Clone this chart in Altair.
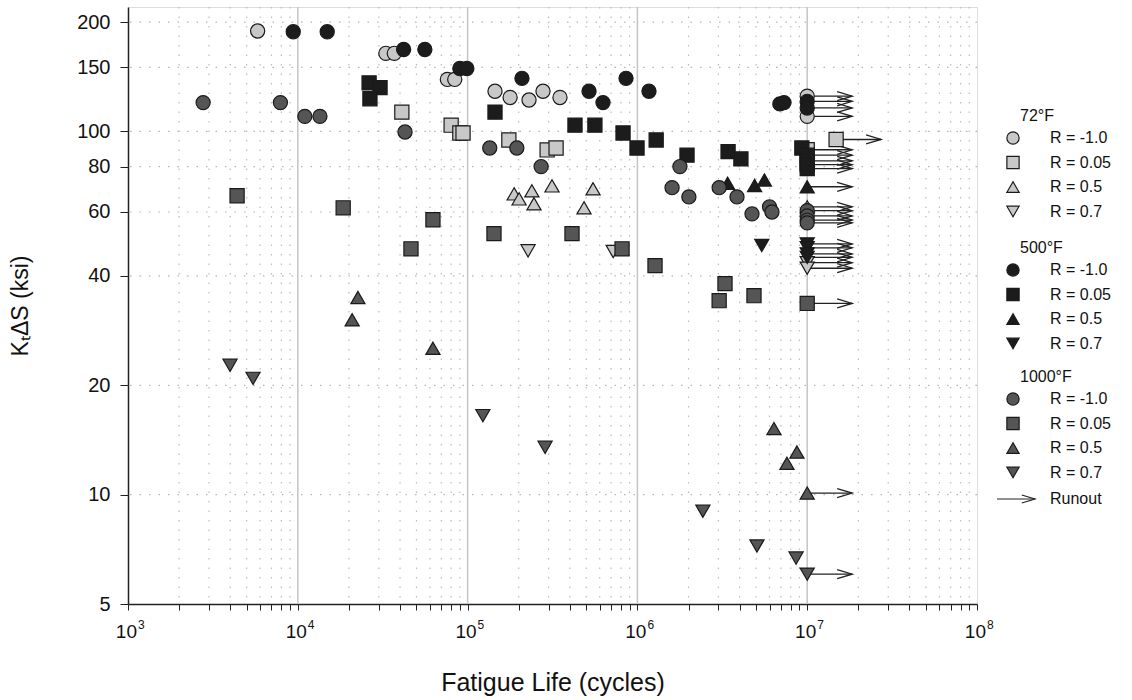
import altair as alt
import pandas as pd

# ---------------- data ----------------
# 72°F
t72_rm1_N = [5.8e3, 3.3e4, 3.7e4, 7.6e4, 8.4e4, 1.45e5, 1.78e5, 2.3e5, 2.78e5, 3.5e5]
t72_rm1_S = [189, 164, 164, 139, 139, 129, 124, 122, 129, 124]
t72_rm1_runN = [1e7, 1e7]
t72_rm1_runS = [125, 110]

t72_r005_N = [4.1e4, 8.0e4, 9.0e4, 9.4e4, 1.75e5, 2.94e5, 3.32e5]
t72_r005_S = [113, 104, 99, 99, 94.7, 88.9, 90]
t72_r005_runN = [1.48e7, 1e7]
t72_r005_runS = [95, 89]

t72_r05_N = [1.88e5, 2.01e5, 2.39e5, 2.46e5, 3.14e5, 4.85e5, 5.48e5]
t72_r05_S = [67.3, 65.2, 68.6, 63.2, 70.8, 61.6, 69.5]
t72_r05_runN = [1e7]
t72_r05_runS = [62]

t72_r07_N = [2.27e5, 7.2e5]
t72_r07_S = [46.9, 46.7]
t72_r07_runN = [1e7, 1e7]
t72_r07_runS = [43.5, 42]

# 500°F
t500_rm1_N = [9.4e3, 1.49e4, 4.2e4, 5.6e4, 9.0e4, 9.9e4, 2.09e5, 5.19e5, 6.27e5, 8.57e5, 1.17e6, 6.9e6, 7.3e6]
t500_rm1_S = [188, 188, 168, 168, 149, 149, 140, 129, 120, 140, 129, 119, 120]
t500_rm1_runN = [1e7, 1e7]
t500_rm1_runS = [121, 116]

t500_r005_N = [2.63e4, 3.05e4, 2.66e4, 1.45e5, 4.29e5, 5.62e5, 8.23e5, 9.95e5, 1.29e6, 1.96e6, 3.42e6, 4.07e6, 9.3e6]
t500_r005_S = [136, 132, 123, 113, 104, 104, 99, 90, 94.7, 86, 88, 84, 90]
t500_r005_runN = [1e7, 1e7, 1e7, 1e7]
t500_r005_runS = [86, 83, 81, 79]

t500_r05_N = [3.4e6, 4.9e6, 5.6e6]
t500_r05_S = [72, 71, 73.5]
t500_r05_runN = [1e7]
t500_r05_runS = [70.4]

t500_r07_N = [5.4e6]
t500_r07_S = [48.5]
t500_r07_runN = [1e7, 1e7, 1e7, 1e7]
t500_r07_runS = [49, 47.8, 46, 45]

# 1000°F
t1000_rm1_N = [2.77e3, 7.9e3, 1.1e4, 1.35e4, 4.28e4, 1.35e5, 1.95e5, 2.71e5, 1.6e6, 1.78e6,
               2.01e6, 3.03e6, 3.86e6, 4.73e6, 6.0e6, 6.2e6]
t1000_rm1_S = [120, 120, 110, 110, 99.6, 90, 90, 80, 70, 80, 66, 70, 66, 59.3, 62, 60]
t1000_rm1_runN = [1e7, 1e7, 1e7, 1e7]
t1000_rm1_runS = [60.5, 58.5, 57, 56]

t1000_r005_N = [4.39e3, 1.85e4, 4.64e4, 6.25e4, 1.43e5, 4.12e5, 8.12e5, 1.27e6, 3.03e6, 3.28e6, 4.86e6]
t1000_r005_S = [66.5, 61.6, 47.5, 57.1, 52.3, 52.3, 47.5, 42.7, 34.2, 38.1, 35.3]
t1000_r005_runN = [1e7]
t1000_r005_runS = [33.6]

t1000_r05_N = [2.09e4, 2.26e4, 6.25e4, 6.37e6, 7.6e6, 8.7e6]
t1000_r05_S = [30.3, 34.9, 25.3, 15.2, 12.2, 13.1]
t1000_r05_runN = [1e7]
t1000_r05_runS = [10.1]

t1000_r07_N = [3.99e3, 5.45e3, 1.23e5, 2.86e5, 2.43e6, 5.06e6, 8.6e6]
t1000_r07_S = [22.7, 20.9, 16.5, 13.5, 9.0, 7.22, 6.69]
t1000_r07_runN = [1e7]
t1000_r07_runS = [6.04]

temps = ["72°F", "500°F", "1000°F"]
ratios = ["R = -1.0", "R = 0.05", "R = 0.5", "R = 0.7"]
temp_colors = ["#c8c8c8", "#1c1c1c", "#555555"]
ratio_shapes = ["circle", "square", "triangle-up", "triangle-down"]

series = [
    ("72°F", "R = -1.0", t72_rm1_N, t72_rm1_S, t72_rm1_runN, t72_rm1_runS),
    ("72°F", "R = 0.05", t72_r005_N, t72_r005_S, t72_r005_runN, t72_r005_runS),
    ("72°F", "R = 0.5", t72_r05_N, t72_r05_S, t72_r05_runN, t72_r05_runS),
    ("72°F", "R = 0.7", t72_r07_N, t72_r07_S, t72_r07_runN, t72_r07_runS),
    ("500°F", "R = -1.0", t500_rm1_N, t500_rm1_S, t500_rm1_runN, t500_rm1_runS),
    ("500°F", "R = 0.05", t500_r005_N, t500_r005_S, t500_r005_runN, t500_r005_runS),
    ("500°F", "R = 0.5", t500_r05_N, t500_r05_S, t500_r05_runN, t500_r05_runS),
    ("500°F", "R = 0.7", t500_r07_N, t500_r07_S, t500_r07_runN, t500_r07_runS),
    ("1000°F", "R = -1.0", t1000_rm1_N, t1000_rm1_S, t1000_rm1_runN, t1000_rm1_runS),
    ("1000°F", "R = 0.05", t1000_r005_N, t1000_r005_S, t1000_r005_runN, t1000_r005_runS),
    ("1000°F", "R = 0.5", t1000_r05_N, t1000_r05_S, t1000_r05_runN, t1000_r05_runS),
    ("1000°F", "R = 0.7", t1000_r07_N, t1000_r07_S, t1000_r07_runN, t1000_r07_runS),
]

ARROW_FACTOR = 1.84  # runout arrow length (multiplicative, log axis)

pts, runs = [], []
for temp, r, Ns, Ss, rN, rS in series:
    for n, s in zip(Ns, Ss):
        pts.append({"N": n, "S": s, "temp": temp, "R": r})
    for n, s in zip(rN, rS):
        pts.append({"N": n, "S": s, "temp": temp, "R": r})
        runs.append({"N": n, "N2": n * ARROW_FACTOR, "S": s})
pts_df = pd.DataFrame(pts)
runs_df = pd.DataFrame(runs)

decades = [1e3, 1e4, 1e5, 1e6, 1e7, 1e8]
decade_exp = ["3", "4", "5", "6", "7", "8"]
minors = [m * 10 ** k for k in range(3, 8) for m in range(2, 10)]
y_ticks = [5, 10, 20, 40, 60, 80, 100, 150, 200]

FONT = "Liberation Sans"
W, H = 849, 597
xscale = alt.Scale(type="log", domain=[1e3, 1e8], nice=False)
yscale = alt.Scale(type="log", domain=[5, 220], nice=False)

xaxis = alt.Axis(values=decades + minors, labels=False, grid=False, tickSize=6,
                 tickColor="#222", domainColor="#222", domainWidth=1.5, tickWidth=1,
                 title="Fatigue Life (cycles)", titleFont=FONT, titleFontSize=25,
                 titleFontWeight="normal", titleColor="#111", titlePadding=60)
yaxis = alt.Axis(values=y_ticks, format="d", grid=False, tickSize=8, tickColor="#222",
                 domainColor="#222", domainWidth=1.5, labelFont=FONT, labelFontSize=20,
                 labelColor="#111", labelPadding=10, labelOverlap=False, labelFlush=False,
                 title="KₜΔS (ksi)", titleFont=FONT, titleFontSize=23,
                 titleFontWeight="normal", titleColor="#111", titlePadding=44)

# grid lines
major_grid = alt.Chart(pd.DataFrame({"N": decades[1:-1]})).mark_rule(
    color="#c4c4c4", strokeWidth=1.5).encode(x=alt.X("N:Q", scale=xscale, axis=xaxis))
minor_grid = alt.Chart(pd.DataFrame({"N": minors})).mark_rule(
    color="#bcbcbc", strokeWidth=1.2, strokeDash=[1.5, 8]).encode(
    x=alt.X("N:Q", scale=xscale, axis=xaxis))
h_grid = alt.Chart(pd.DataFrame({"S": y_ticks[1:]})).mark_rule(
    color="#b5b5b5", strokeWidth=1.2, strokeDash=[1.5, 8]).encode(
    y=alt.Y("S:Q", scale=yscale, axis=yaxis))

# decade labels 10^k drawn as base + raised exponent
dec_df = pd.DataFrame({"N": decades, "base": ["10"] * len(decades), "exp": decade_exp})
dec_base = alt.Chart(dec_df).mark_text(align="right", baseline="middle", font=FONT,
                                       fontSize=19, color="#111", dx=9).encode(
    x=alt.X("N:Q", scale=xscale, axis=xaxis), y=alt.value(H + 28), text="base:N")
dec_exp = alt.Chart(dec_df).mark_text(align="left", baseline="middle", font=FONT,
                                      fontSize=12, color="#111", dx=10).encode(
    x=alt.X("N:Q", scale=xscale, axis=xaxis), y=alt.value(H + 21), text="exp:N")

arrows = alt.Chart(runs_df).mark_rule(color="#222", strokeWidth=1.3).encode(
    x=alt.X("N:Q", scale=xscale, axis=xaxis), x2="N2:Q",
    y=alt.Y("S:Q", scale=yscale, axis=yaxis))
CHEVRON = "M-1,-0.3L0,0L-1,0.3"
heads = alt.Chart(runs_df).mark_point(shape=CHEVRON, size=900, filled=False,
                                      stroke="#222", strokeWidth=1.3, opacity=1).encode(
    x=alt.X("N2:Q", scale=xscale, axis=xaxis),
    y=alt.Y("S:Q", scale=yscale, axis=yaxis))

points = alt.Chart(pts_df).mark_point(filled=True, size=200, stroke="#1a1a1a",
                                      strokeWidth=1.2, opacity=1).encode(
    x=alt.X("N:Q", scale=xscale, axis=xaxis),
    y=alt.Y("S:Q", scale=yscale, axis=yaxis),
    fill=alt.Fill("temp:N", scale=alt.Scale(domain=temps, range=temp_colors), legend=None),
    shape=alt.Shape("R:N", scale=alt.Scale(domain=ratios, range=ratio_shapes), legend=None),
)

main = alt.layer(major_grid, minor_grid, h_grid, dec_base, dec_exp, arrows, heads, points)

# ---------------- custom legend (pixel layout) ----------------
leg_sym_x, leg_txt_x, leg_head_x = 885, 922, 892
y = 109
leg_items, leg_heads = [], []
for i, t in enumerate(temps):
    leg_heads.append({"x": leg_head_x, "y": y, "label": t})
    y += 22
    for r in ratios:
        leg_items.append({"x": leg_sym_x, "y": y, "tx": leg_txt_x, "label": r, "temp": t, "R": r})
        y += 24.5
    y += 12 if i == 0 else 9
run_y = y - 9 + 2
leg_items_df = pd.DataFrame(leg_items)
leg_heads_df = pd.DataFrame(leg_heads)
leg_run_df = pd.DataFrame([{"x": 869, "x2": 907, "y": run_y, "tx": leg_txt_x, "label": "Runout"}])

lg_sym = alt.Chart(leg_items_df).mark_point(filled=True, size=150, stroke="#1a1a1a",
                                            strokeWidth=1.2, opacity=1).encode(
    x=alt.X("x:Q", scale=None, axis=None), y=alt.Y("y:Q", scale=None, axis=None),
    fill=alt.Fill("temp:N", scale=alt.Scale(domain=temps, range=temp_colors), legend=None),
    shape=alt.Shape("R:N", scale=alt.Scale(domain=ratios, range=ratio_shapes), legend=None))
lg_txt = alt.Chart(leg_items_df).mark_text(align="left", baseline="middle", font=FONT,
                                           fontSize=16, color="#111").encode(
    x=alt.X("tx:Q", scale=None, axis=None), y=alt.Y("y:Q", scale=None, axis=None), text="label:N")
lg_head = alt.Chart(leg_heads_df).mark_text(align="left", baseline="middle", font=FONT,
                                            fontSize=16, color="#111").encode(
    x=alt.X("x:Q", scale=None, axis=None), y=alt.Y("y:Q", scale=None, axis=None), text="label:N")
lg_rule = alt.Chart(leg_run_df).mark_rule(color="#222", strokeWidth=1.2).encode(
    x=alt.X("x:Q", scale=None, axis=None), x2="x2:Q", y=alt.Y("y:Q", scale=None, axis=None))
lg_head_arrow = alt.Chart(leg_run_df).mark_point(shape=CHEVRON, size=700, filled=False,
                                                 stroke="#222", strokeWidth=1.2, opacity=1).encode(
    x=alt.X("x2:Q", scale=None, axis=None), y=alt.Y("y:Q", scale=None, axis=None))
lg_run_txt = alt.Chart(leg_run_df).mark_text(align="left", baseline="middle", font=FONT,
                                             fontSize=16, color="#111").encode(
    x=alt.X("tx:Q", scale=None, axis=None), y=alt.Y("y:Q", scale=None, axis=None), text="label:N")

legend = alt.layer(lg_sym, lg_txt, lg_head, lg_rule, lg_head_arrow, lg_run_txt)

chart = alt.layer(main, legend).resolve_scale(
    x="independent", y="independent", fill="independent", shape="independent"
).properties(
    width=W, height=H,
    autosize=alt.AutoSizeParams(type="none"),
    padding={"left": 128, "top": 7, "right": 155, "bottom": 96},
).configure_view(stroke="#3a3a3a", strokeWidth=2).configure(background="white", font=FONT)

chart.save("out.html", embed_options={"renderer": "svg", "actions": False})
